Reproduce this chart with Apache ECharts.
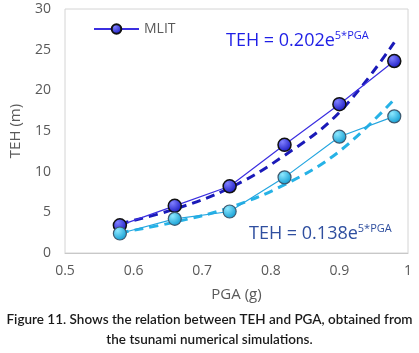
<!DOCTYPE html>
<html>
<head>
<meta charset="utf-8">
<script src="https://cdn.jsdelivr.net/npm/echarts@6/dist/echarts.min.js"></script>
<style>
  html, body { margin: 0; padding: 0; background: #fff; }
  #chart { width: 419px; height: 353px; }
</style>
</head>
<body>
<div id="chart"></div>
<script>
// PGA values and tsunami heights
const pga = [0.58, 0.66, 0.74, 0.82, 0.90, 0.98];
const mlit = [3.4, 5.8, 8.2, 13.3, 18.3, 23.6];
const lower = [2.4, 4.2, 5.1, 9.3, 14.3, 16.8];
// dashed trend lines, read at the same PGA values
const fitHigh = [3.6, 5.4, 8.0, 12.0, 17.3, 25.9];
const fitLow = [2.5, 3.8, 5.6, 8.4, 12.5, 18.9];
const captionLines = [
  "Figure 11. Shows the relation between TEH and PGA, obtained from",
  "the tsunami numerical simulations.",
];

const pairs = (xs, ys) => xs.map((x, i) => [x, ys[i]]);

const gray = "#595959";
const darkBall = new echarts.graphic.RadialGradient(0.35, 0.3, 0.7, [
  { offset: 0, color: "#8080ff" },
  { offset: 1, color: "#1c1cc4" },
]);
const lightBall = new echarts.graphic.RadialGradient(0.35, 0.3, 0.7, [
  { offset: 0, color: "#8ee8ff" },
  { offset: 1, color: "#149fd4" },
]);

const captionStyle = {
  fontFamily: "Lato",
  fontSize: 13.5,
  fontWeight: 600,
  fill: "#1a1a1a",
};

const chart = echarts.init(document.getElementById("chart"));
chart.setOption({
  animation: false,
  textStyle: { fontFamily: "Open Sans" },
  grid: {
    left: 62,
    top: 9,
    right: 11,
    bottom: 100,
    show: true,
    borderColor: "#d4d4d4",
    borderWidth: 1,
  },
  legend: {
    data: ["MLIT"],
    left: 88,
    top: 17,
    itemWidth: 45,
    itemHeight: 12,
    itemGap: 6,
    textStyle: { color: gray, fontSize: 14 },
  },
  xAxis: {
    type: "value",
    min: 0.5,
    max: 1,
    interval: 0.1,
    name: "PGA (g)",
    nameLocation: "middle",
    nameGap: 34,
    nameTextStyle: { color: gray, fontSize: 15 },
    axisLine: { show: true, lineStyle: { color: "#c8c8c8" } },
    axisTick: { show: false },
    splitLine: { show: false },
    axisLabel: { color: gray, fontSize: 14, margin: 11 },
  },
  yAxis: {
    type: "value",
    min: 0,
    max: 30,
    interval: 5,
    name: "TEH (m)",
    nameLocation: "middle",
    nameGap: 42,
    nameTextStyle: { color: gray, fontSize: 15 },
    axisLine: { show: false },
    axisTick: { show: false },
    splitLine: { show: false },
    axisLabel: { color: gray, fontSize: 14, margin: 14 },
  },
  graphic: [
    {
      type: "text",
      left: 226,
      top: 30,
      style: {
        text: "{b|TEH = 0.202e}{s|5*PGA}",
        rich: {
          b: { fontSize: 18, fill: "#1f1fe6", fontFamily: "Open Sans" },
          s: { fontSize: 11, fill: "#1f1fe6", fontFamily: "Open Sans", padding: [0, 0, 10, 0] },
        },
      },
    },
    {
      type: "text",
      left: 249,
      top: 223,
      style: {
        text: "{b|TEH = 0.138e}{s|5*PGA}",
        rich: {
          b: { fontSize: 18, fill: "#2f4f9f", fontFamily: "Open Sans" },
          s: { fontSize: 11, fill: "#2f4f9f", fontFamily: "Open Sans", padding: [0, 0, 10, 0] },
        },
      },
    },
    {
      type: "text",
      left: "center",
      top: 313,
      style: Object.assign({ text: captionLines[0] }, captionStyle),
    },
    {
      type: "text",
      left: "center",
      top: 333,
      style: Object.assign({ text: captionLines[1] }, captionStyle),
    },
  ],
  series: [
    {
      name: "fit-high",
      type: "line",
      data: pairs(pga, fitHigh),
      smooth: 0.4,
      symbol: "none",
      z: 1,
      lineStyle: { color: "#1a1ab8", width: 3, type: [9, 6] },
    },
    {
      name: "fit-low",
      type: "line",
      data: pairs(pga, fitLow),
      smooth: 0.4,
      symbol: "none",
      z: 1,
      lineStyle: { color: "#26b2e6", width: 3, type: [9, 6] },
    },
    {
      name: "MLIT",
      type: "line",
      data: pairs(pga, mlit),
      symbol: "circle",
      symbolSize: 13,
      z: 3,
      lineStyle: { color: "#3b2fe0", width: 1.2 },
      itemStyle: { color: darkBall, borderColor: "#111", borderWidth: 1.5 },
    },
    {
      name: "lower",
      type: "line",
      data: pairs(pga, lower),
      symbol: "circle",
      symbolSize: 13,
      z: 3,
      lineStyle: { color: "#25a6e0", width: 1.2 },
      itemStyle: { color: lightBall, borderColor: "#3d5a70", borderWidth: 1.2 },
    },
  ],
});
</script>
</body>
</html>
